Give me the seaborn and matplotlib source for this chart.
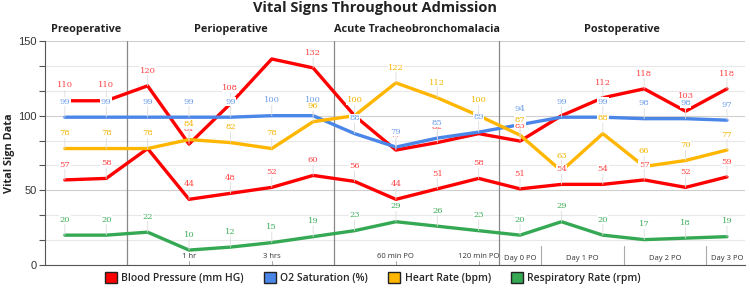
import matplotlib
matplotlib.use('Agg')
import matplotlib.pyplot as plt
import seaborn as sns
import numpy as np
import pandas as pd
from matplotlib.patches import Patch

# time points along the admission (one per measurement)
timepoints = ['Pre A', 'Pre B', 'Peri 0', '1 hr', 'Peri 2', '3 hrs', 'Peri 4',
              'TBM 0', '60 min PO', 'TBM 2', '120 min PO', 'Day 0 PO',
              'Day 1 PO a', 'Day 1 PO b', 'Day 2 PO a', 'Day 2 PO b', 'Day 3 PO']
systolic = [110, 110, 120, 81, 108, 138, 132, 100, 77, 82, 88, 83, 100, 112, 118, 103, 118]
diastolic = [57, 58, 78, 44, 48, 52, 60, 56, 44, 51, 58, 51, 54, 54, 57, 52, 59]
o2_sat = [99, 99, 99, 99, 99, 100, 100, 88, 79, 85, 89, 94, 99, 99, 98, 98, 97]
heart_rate = [78, 78, 78, 84, 82, 78, 96, 100, 122, 112, 100, 87, 63, 88, 66, 70, 77]
resp_rate = [20, 20, 22, 10, 12, 15, 19, 23, 29, 26, 23, 20, 29, 20, 17, 18, 19]
# labels that are hidden behind other labels in the original
no_label = {'systolic': [5, 7, 10, 12], 'diastolic': [2]}

phases = ['Preoperative', 'Perioperative', 'Acute Tracheobronchomalacia', 'Postoperative']
phase_groups = [[0, 1], [2, 3, 4, 5, 6], [7, 8, 9, 10], [11, 12, 13, 14, 15, 16]]
hour_labels = {3: '1 hr', 5: '3 hrs', 8: '60 min PO', 10: '120 min PO'}
day_labels = ['Day 0 PO', 'Day 1 PO', 'Day 2 PO', 'Day 3 PO']
day_groups = [[11], [12, 13], [14, 15], [16]]

legend_names = ['Blood Pressure (mm HG)', 'O2 Saturation (%)', 'Heart Rate (bpm)', 'Respiratory Rate (rpm)']

line_colors = {'systolic': '#ff0000', 'diastolic': '#ff0000', 'o2': '#4a86e8',
               'hr': '#ffb600', 'rr': '#34a853'}
label_colors = {'systolic': '#ff4040', 'diastolic': '#ff4040', 'o2': '#6d9eeb',
                'hr': '#f4b400', 'rr': '#3daf5a'}

sns.set_style('white')
plt.rcParams['font.family'] = ['Open Sans', 'DejaVu Sans']

df = pd.DataFrame({'t': np.arange(len(timepoints)), 'systolic': systolic, 'diastolic': diastolic,
                   'o2': o2_sat, 'hr': heart_rate, 'rr': resp_rate})
long = df.melt(id_vars='t', var_name='series', value_name='value')

fig = plt.figure(figsize=(7.5, 2.89), dpi=100)
ax = fig.add_axes([0.06, 0.083, 0.933, 0.775])

# gridlines first
for v in np.linspace(0, 150, 10):
    major = np.isclose(v % 50, 0)
    ax.axhline(v, color='#cfcfcf' if major else '#e8e8e8', lw=0.8, zorder=0)

sns.lineplot(data=long, x='t', y='value', hue='series', palette=line_colors,
             lw=2.4, legend=False, ax=ax, zorder=3)

# point labels
for key in ['systolic', 'diastolic', 'o2', 'hr', 'rr']:
    for i, v in enumerate(df[key]):
        if i in no_label.get(key, []):
            continue
        ax.annotate(str(v), (i, v), xytext=(0, 11), textcoords='offset points',
                    ha='center', va='center', fontsize=6, color=label_colors[key],
                    family='DejaVu Serif', zorder=5,
                    bbox=dict(boxstyle='square,pad=0.05', fc='white', ec='none'),
                    arrowprops=dict(arrowstyle='-', color='#dddddd', lw=0.6,
                                    shrinkA=0, shrinkB=0))

# phase dividers and headers
for g in phase_groups[1:]:
    ax.axvline(g[0] - 0.5, color='#888888', lw=0.9, zorder=2)
x0, x1 = -0.48, 16.43
for k, (g, name) in enumerate(zip(phase_groups, phases)):
    left = x0 if k == 0 else g[0] - 0.5
    right = x1 if k == len(phases) - 1 else g[-1] + 0.5
    ax.text((left + right) / 2, 157.5, name, ha='center', va='center',
            fontsize=7.8, fontweight='bold', color='#222222', clip_on=False)

# hour labels near the axis
for i, lab in hour_labels.items():
    ax.text(i, 6, lab, ha='center', va='center', fontsize=5.5, color='#333333', zorder=6)
    ax.plot([i, i], [0, 3], color='#999999', lw=0.6)

# day labels with separators
for g, lab in zip(day_groups, day_labels):
    ax.text(np.mean(g), 4.5, lab, ha='center', va='center', fontsize=5.5, color='#333333')
for g in day_groups[1:]:
    ax.plot([g[0] - 0.5, g[0] - 0.5], [0, 13], color='#aaaaaa', lw=0.8)

ax.set_xlim(x0, x1)
ax.set_ylim(0, 150)
ax.set_xticks([])
ax.set_yticks(np.linspace(0, 150, 10), minor=True)
ax.set_yticks([0, 50, 100, 150])
ax.tick_params(axis='y', which='both', left=True, length=4, width=0.8, color='#555555',
               labelsize=8, labelcolor='#333333', pad=2)
ax.set_yticklabels(['0', '50', '100', '150'], family=['Liberation Sans', 'DejaVu Sans'])
for s in ['top', 'right']:
    ax.spines[s].set_visible(False)
ax.spines['left'].set_color('#555555')
ax.spines['bottom'].set_color('#555555')
ax.set_xlabel('')
ax.set_ylabel('')
fig.text(0.013, 0.47, 'Vital Sign Data', rotation=90, ha='center', va='center',
         fontsize=7.8, fontweight='bold', color='#222222')

fig.text(0.5, 0.972, 'Vital Signs Throughout Admission', ha='center', va='center',
         fontsize=10.5, fontweight='bold', color='#222222')

legend_colors = [line_colors['systolic'], line_colors['o2'], line_colors['hr'], line_colors['rr']]
handles = [Patch(facecolor=c, edgecolor='#222222', lw=1.0) for c in legend_colors]
fig.legend(handles, legend_names, loc='center', bbox_to_anchor=(0.497, 0.038), ncol=4,
           frameon=False, handlelength=1.2, handleheight=1.2, columnspacing=1.9,
           handletextpad=0.4, prop={'size': 7.5, 'weight': 'semibold'})

fig.savefig('out.png', dpi=100)
